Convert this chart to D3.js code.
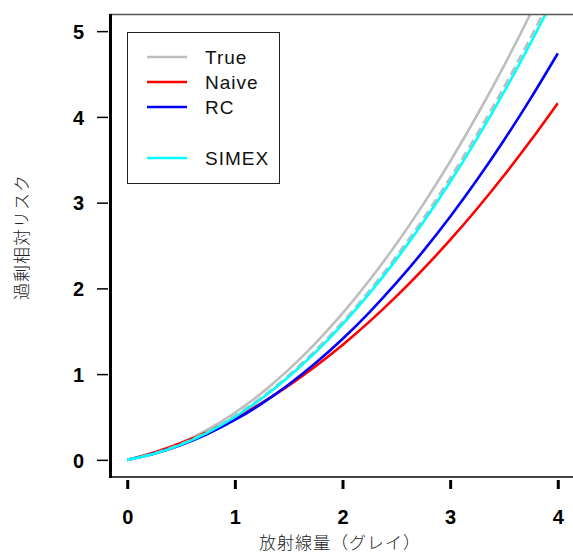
<!DOCTYPE html>
<html><head><meta charset="utf-8">
<script src="https://cdn.jsdelivr.net/npm/d3@7"></script>
<style>body{margin:0;background:#fff}svg{display:block}</style>
</head><body><svg id="c" width="573" height="553"></svg>
<script>
const doses = [0,0.25,0.5,0.75,1,1.25,1.5,1.75,2,2.25,2.5,2.75,3,3.25,3.5,3.75,4];
const trueRisk = [0,0.080,0.198,0.354,0.548,0.781,1.052,1.361,1.708,2.094,2.518,2.980,3.480,4.019,4.596,5.211,5.864];
const trueDashed = [0,0.073,0.183,0.329,0.512,0.731,0.987,1.279,1.608,1.973,2.375,2.813,3.288,3.799,4.347,4.931,5.552];
const naiveRisk = [0,0.087,0.196,0.329,0.485,0.664,0.866,1.092,1.340,1.612,1.906,2.224,2.565,2.929,3.316,3.727,4.160];
const rcRisk = [0,0.071,0.173,0.304,0.465,0.656,0.878,1.129,1.410,1.721,2.063,2.434,2.835,3.266,3.728,4.219,4.740];
const simexRisk = [0,0.071,0.178,0.321,0.500,0.716,0.968,1.256,1.580,1.941,2.338,2.771,3.240,3.746,4.288,4.866,5.480];
const xTicks = [0,1,2,3,4];
const yTicks = [0,1,2,3,4,5];
const legendLabels = ["True","Naive","RC","SIMEX"];
const legendColors = ["#bebebe","#ff0000","#0000ff","#00ffff"];

const svg = d3.select("#c");
const x = d3.scaleLinear().domain([-0.16,4.16]).range([110,575]);
const y = d3.scaleLinear().domain([-0.2,5.2]).range([477,14]);

svg.append("defs").append("clipPath").attr("id","clip")
  .append("rect").attr("x",110).attr("y",14).attr("width",465).attr("height",463);

const line = d3.line().x((d,i)=>x(doses[i])).y(d=>y(d)).curve(d3.curveMonotoneX);
const g = svg.append("g").attr("clip-path","url(#clip)");
const series = [
  {v: trueRisk, c: "#bebebe", dash: null},
  {v: naiveRisk, c: "#ff0000", dash: null},
  {v: rcRisk, c: "#0000ff", dash: null},
  {v: trueDashed, c: "#bebebe", dash: "9,5"},
  {v: simexRisk, c: "#00ffff", dash: null}
];
series.forEach(s=>{
  g.append("path").datum(s.v).attr("d",line).attr("fill","none")
   .attr("stroke",s.c).attr("stroke-width",2.6)
   .attr("stroke-dasharray",s.dash);
});

// frame
svg.append("line").attr("x1",110).attr("x2",573).attr("y1",14.5).attr("y2",14.5).attr("stroke","#555").attr("stroke-width",1.5);
svg.append("line").attr("x1",110).attr("x2",573).attr("y1",477).attr("y2",477).attr("stroke","#444").attr("stroke-width",2);
svg.append("line").attr("x1",110.5).attr("x2",110.5).attr("y1",14).attr("y2",478).attr("stroke","#000").attr("stroke-width",3);

// x axis
const xa = svg.append("g").attr("transform","translate(0,480)")
  .call(d3.axisBottom(x).tickValues(xTicks).tickSize(9).tickFormat(d3.format("d")));
xa.select(".domain").remove();
xa.selectAll(".tick line").attr("stroke","#000").attr("stroke-width",3);
xa.selectAll(".tick text").attr("font-family","'Liberation Sans',Arial,sans-serif")
  .attr("font-size",20).attr("font-weight","bold").attr("fill","#000").attr("dy",0).attr("y",44);

// y axis
const ya = svg.append("g").attr("transform","translate(108,0)")
  .call(d3.axisLeft(y).tickValues(yTicks).tickSize(11).tickFormat(d3.format("d")));
ya.select(".domain").remove();
ya.selectAll(".tick line").attr("stroke","#000").attr("stroke-width",1.5);
ya.selectAll(".tick text").attr("font-family","'Liberation Sans',Arial,sans-serif")
  .attr("font-size",20).attr("font-weight","bold").attr("fill","#000").attr("x",-24).attr("dy","0.36em");

// axis titles
svg.append("text").attr("x",340).attr("y",549).attr("text-anchor","middle")
  .attr("font-family","'Noto Sans CJK JP',sans-serif").attr("font-size",17).attr("font-weight",300).attr("fill","#222")
  .attr("letter-spacing",1)
  .text("放射線量（グレイ）");
svg.append("text").attr("transform","translate(28,237) rotate(-90)").attr("text-anchor","middle")
  .attr("font-family","'Noto Sans CJK JP',sans-serif").attr("font-size",17).attr("font-weight",300).attr("fill","#222")
  .attr("letter-spacing",1)
  .text("過剰相対リスク");

// legend
svg.append("rect").attr("x",127.5).attr("y",32.5).attr("width",152).attr("height",151)
  .attr("fill","#fff").attr("stroke","#222").attr("stroke-width",1);
const legY = [57,82,107,158];
legendLabels.forEach((lab,i)=>{
  svg.append("line").attr("x1",147).attr("x2",187).attr("y1",legY[i]).attr("y2",legY[i])
    .attr("stroke",legendColors[i]).attr("stroke-width",2.6);
  svg.append("text").attr("x",205).attr("y",legY[i]).attr("dy","0.36em")
    .attr("font-family","'Liberation Sans',Arial,sans-serif").attr("font-size",19).attr("fill","#111")
    .attr("letter-spacing",1)
    .text(lab);
});
</script></body></html>
